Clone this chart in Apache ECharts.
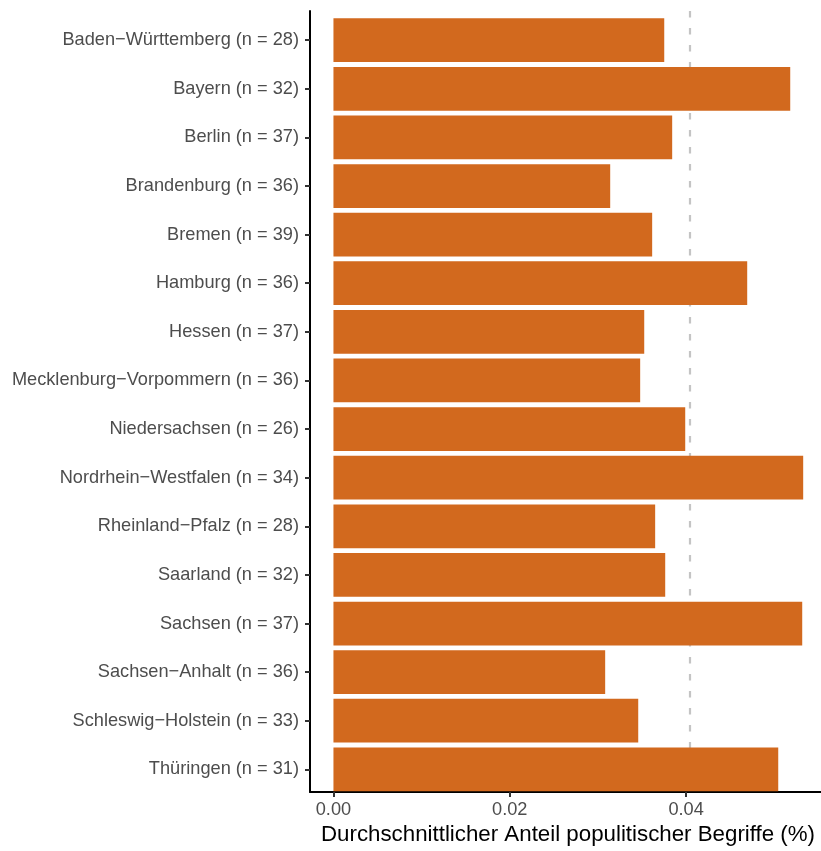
<!DOCTYPE html>
<html>
<head>
<meta charset="utf-8">
<script src="https://cdn.jsdelivr.net/npm/echarts@6/dist/echarts.min.js"></script>
<style>
  html, body { margin: 0; padding: 0; background: #fff; }
  #chart { width: 821px; height: 851px; }
</style>
</head>
<body>
<div id="chart"></div>
<script>
const categories = [
  "Baden−Württemberg (n = 28)",
  "Bayern (n = 32)",
  "Berlin (n = 37)",
  "Brandenburg (n = 36)",
  "Bremen (n = 39)",
  "Hamburg (n = 36)",
  "Hessen (n = 37)",
  "Mecklenburg−Vorpommern (n = 36)",
  "Niedersachsen (n = 26)",
  "Nordrhein−Westfalen (n = 34)",
  "Rheinland−Pfalz (n = 28)",
  "Saarland (n = 32)",
  "Sachsen (n = 37)",
  "Sachsen−Anhalt (n = 36)",
  "Schleswig−Holstein (n = 33)",
  "Thüringen (n = 31)"
];
const values = [
  0.03752, 0.05181, 0.03842, 0.03139, 0.03615, 0.04693, 0.03525, 0.03479,
  0.03990, 0.05328, 0.03649, 0.03763, 0.05317, 0.03082, 0.03457, 0.05045
];
const referenceValue = 0.04043;
const xTicks = [0, 0.02, 0.04];
const xMinVisible = -0.00266;
const xMaxVisible = 0.0553;
const xTitle = "Durchschnittlicher Anteil populitischer Begriffe (%)";

const FONT = '"Liberation Sans", Arial, Helvetica, sans-serif';

const panelTop = 11, panelBottom = 798.5, panelLeft = 310;
const unit = (panelBottom - panelTop) / (categories.length + 0.2);

const chart = echarts.init(document.getElementById('chart'), null, { renderer: 'canvas' });
chart.setOption({
  animation: false,
  backgroundColor: '#ffffff',
  grid: [
    { left: panelLeft, right: 0, top: panelTop + 0.1 * unit, height: unit * categories.length, containLabel: false },
    { left: panelLeft, right: 0, top: panelTop, height: panelBottom - panelTop, containLabel: false }
  ],
  xAxis: [
    { gridIndex: 0, type: 'value', min: xMinVisible, max: xMaxVisible, show: false },
    {
      gridIndex: 1, type: 'value', min: xMinVisible, max: xMaxVisible,
      axisLine: { show: true, onZero: false, lineStyle: { color: '#000', width: 2 } },
      axisTick: { show: true, customValues: xTicks, length: 5, lineStyle: { color: '#333', width: 2 } },
      axisLabel: { show: true, customValues: xTicks, margin: 9, fontSize: 18.2, color: '#4d4d4d', fontFamily: FONT,
                   formatter: v => Number(v).toFixed(2) },
      splitLine: { show: false },
      name: xTitle, nameLocation: 'middle', nameGap: 30,
      nameTextStyle: { fontSize: 22.3, color: '#000', fontFamily: FONT, padding: [0, 0, 0, 5] }
    }
  ],
  yAxis: [
    {
      gridIndex: 0, type: 'category', data: categories, inverse: true,
      axisLine: { show: false, onZero: false },
      axisTick: { show: true, alignWithLabel: true, length: 5, lineStyle: { color: '#333', width: 2 } },
      axisLabel: { margin: 11, fontSize: 18.2, color: '#4d4d4d', fontFamily: FONT },
      splitLine: { show: false }
    },
    {
      gridIndex: 1, type: 'value', min: 0, max: 1,
      axisLine: { show: true, onZero: false, lineStyle: { color: '#000', width: 2 } },
      axisTick: { show: false }, axisLabel: { show: false }, splitLine: { show: false }
    }
  ],
  series: [
    {
      type: 'line', xAxisIndex: 1, yAxisIndex: 1, data: [], z: 1, silent: true,
      markLine: {
        z: 1,
        symbol: 'none', silent: true, label: { show: false },
        precision: 6,
        lineStyle: { color: '#c4c4c4', type: [6.5, 10.5], width: 2.2 },
        data: [[{ coord: [referenceValue, 1] }, { coord: [referenceValue, 0] }]]
      }
    },
    {
      type: 'bar', xAxisIndex: 0, yAxisIndex: 0, data: values, z: 4,
      barCategoryGap: '10%',
      itemStyle: { color: '#D2691E' }
    }
  ]
});
</script>
</body>
</html>
